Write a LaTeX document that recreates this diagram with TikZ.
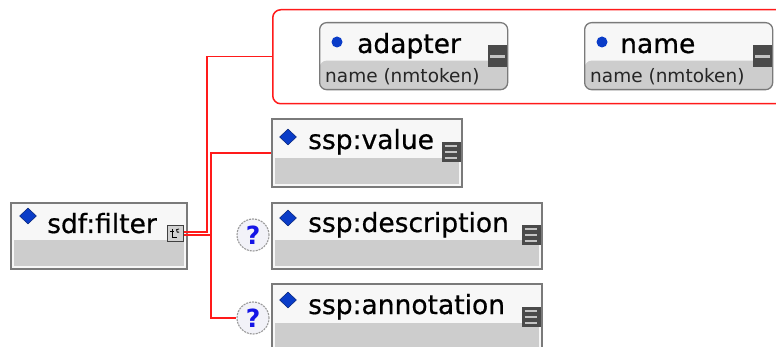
\documentclass[tikz,border=0pt]{standalone}
\usepackage{fontspec}
\setmainfont{DejaVu Sans}
\newfontfamily\heavyface[FakeBold=0.6]{DejaVu Sans}
\usetikzlibrary{shapes.geometric}

\definecolor{boxedge}{HTML}{7A7A7A}
\definecolor{boxtop}{HTML}{F7F7F7}
\definecolor{boxband}{HTML}{CDCDCD}
\definecolor{linkred}{HTML}{FF1A1A}
\definecolor{gem}{HTML}{0A3CC8}
\definecolor{icondark}{HTML}{4A4A4A}
\definecolor{iconbar}{HTML}{C4C4C4}
\definecolor{qfill}{HTML}{F2F2F8}
\definecolor{qblue}{HTML}{1414E6}

\tikzset{
  elembox/.style={rectangle, anchor=north west, inner sep=0pt,
    draw=boxedge, line width=1.6pt, fill=boxtop,
    path picture={\fill[boxband]
      ([xshift=3pt,yshift=3pt]path picture bounding box.south west) rectangle
      ([xshift=-3pt,yshift=29pt]path picture bounding box.south east);}},
  attrbox/.style={rectangle, rounded corners=7pt, anchor=north west, inner sep=0pt,
    minimum width=188pt, minimum height=67pt,
    draw=boxedge, line width=1.3pt, fill=boxtop,
    path picture={\fill[boxband]
      (path picture bounding box.south west) rectangle
      ([yshift=29pt]path picture bounding box.south east);}},
  groupbox/.style={rectangle, rounded corners=8pt, anchor=north west, inner sep=0pt,
    draw=linkred, line width=1.5pt},
  title/.style={anchor=base west, inner sep=0pt,
    font=\heavyface\fontsize{26.5}{30}\selectfont},
  subtitle/.style={anchor=base west, inner sep=0pt, text=black!85,
    font=\fontsize{18.5}{20}\selectfont},
  gemmark/.style={diamond, fill=gem, draw=gem!60!black, line width=0.5pt,
    inner sep=0pt, minimum width=17pt, minimum height=16pt},
  attrdot/.style={circle, fill=gem, inner sep=0pt, minimum size=11pt},
  listicon/.style={rectangle, fill=icondark, inner sep=0pt,
    minimum width=19pt, minimum height=20pt, anchor=north east},
  attricon/.style={rectangle, fill=icondark, inner sep=0pt,
    minimum width=19pt, minimum height=22pt, anchor=north east},
  seqicon/.style={rectangle, fill=black!18, draw=black!75, line width=1pt,
    inner sep=0pt, minimum size=16pt, anchor=north west},
  qmark/.style={circle, minimum size=32pt, inner sep=0pt, fill=qfill,
    draw=gray!80, dash pattern=on 2pt off 1pt, line width=1.1pt,
    text=qblue, font=\bfseries\fontsize{25}{25}\selectfont},
  link/.style={draw=linkred, line width=1.5pt},
}

\begin{document}
\begin{tikzpicture}[x=1pt,y=-1pt]
\clip (0,0) rectangle (776,347);
\fill[white] (0,0) rectangle (776,347);

% attribute group
\node[groupbox, minimum width=540pt, minimum height=94pt] (attrs) at (272,9) {};

\node[attrbox] (adapter) at (319,22) {};
\node[attrdot] (adapter-dot) at (337,42) {};
\node[title] (adapter-label) at (357,53) {adapter};
\node[subtitle] (adapter-type) at (325,83) {name (nmtoken)};
\node[attricon] (adapter-icon) at (507,45) {};

\node[attrbox] (name) at (584,22) {};
\node[attrdot] (name-dot) at (602,42) {};
\node[title] (name-label) at (620,53) {name};
\node[subtitle] (name-type) at (590,83) {name (nmtoken)};
\node[attricon] (name-icon) at (772,45) {};

\foreach \n in {adapter-icon,name-icon}
  \fill[iconbar] ([xshift=2pt,yshift=-10pt]\n.north west) rectangle
                 ([xshift=-2pt,yshift=-13pt]\n.north east);

% root element
\node[elembox, minimum width=176pt, minimum height=66pt] (filter) at (10,202) {};
\node[gemmark] (filter-gem) at (28,216) {};
\node[title] (filter-label) at (47,233) {sdf:filter};
\node[seqicon] (ficon) at (167,225) {};
\draw[line width=1pt] ([xshift=5pt,yshift=-4pt]ficon.north west) -- ++(0,9) -- ++(5,0);
\draw[line width=1pt] ([xshift=3pt,yshift=-7pt]ficon.north west) -- ++(4,0);
\draw[line width=0.8pt] ([xshift=12pt,yshift=-4pt]ficon.north west) arc[start angle=60, end angle=300, radius=1.8pt];

% child elements
\node[elembox, minimum width=190pt, minimum height=68pt] (value) at (271,118) {};
\node[gemmark] (value-gem) at (288,137) {};
\node[title] (value-label) at (308,149) {ssp:value};
\node[listicon] (value-icon) at (461,142) {};

\node[elembox, minimum width=270pt, minimum height=66pt] (desc) at (271,202) {};
\node[gemmark] (desc-gem) at (288,218) {};
\node[title] (desc-label) at (308,232) {ssp:description};
\node[listicon] (desc-icon) at (541,225) {};
\node[qmark] (descq) at (253,235) {?};

\node[elembox, minimum width=270pt, minimum height=68pt] (annot) at (271,283) {};
\node[gemmark] (annot-gem) at (288,300) {};
\node[title] (annot-label) at (308,314) {ssp:annotation};
\node[listicon] (annot-icon) at (541,307) {};
\node[qmark] (annotq) at (253,318) {?};

\foreach \n in {value-icon,desc-icon,annot-icon}
  \foreach \k in {4,10,16}
    \draw[iconbar, line width=1.6pt] ([xshift=3pt,yshift=-\k pt]\n.north west) --
                                     ([xshift=-4pt,yshift=-\k pt]\n.north east);

% connectors
\draw[link] ([yshift=1.5pt]ficon.east) -- ++(23,0) |- (attrs.west);
\draw[link] ([yshift=-1.5pt]ficon.east) -- ++(27,0) coordinate (fork) |- (value.west);
\draw[link] (fork) |- (annotq.west);
\end{tikzpicture}
\end{document}
